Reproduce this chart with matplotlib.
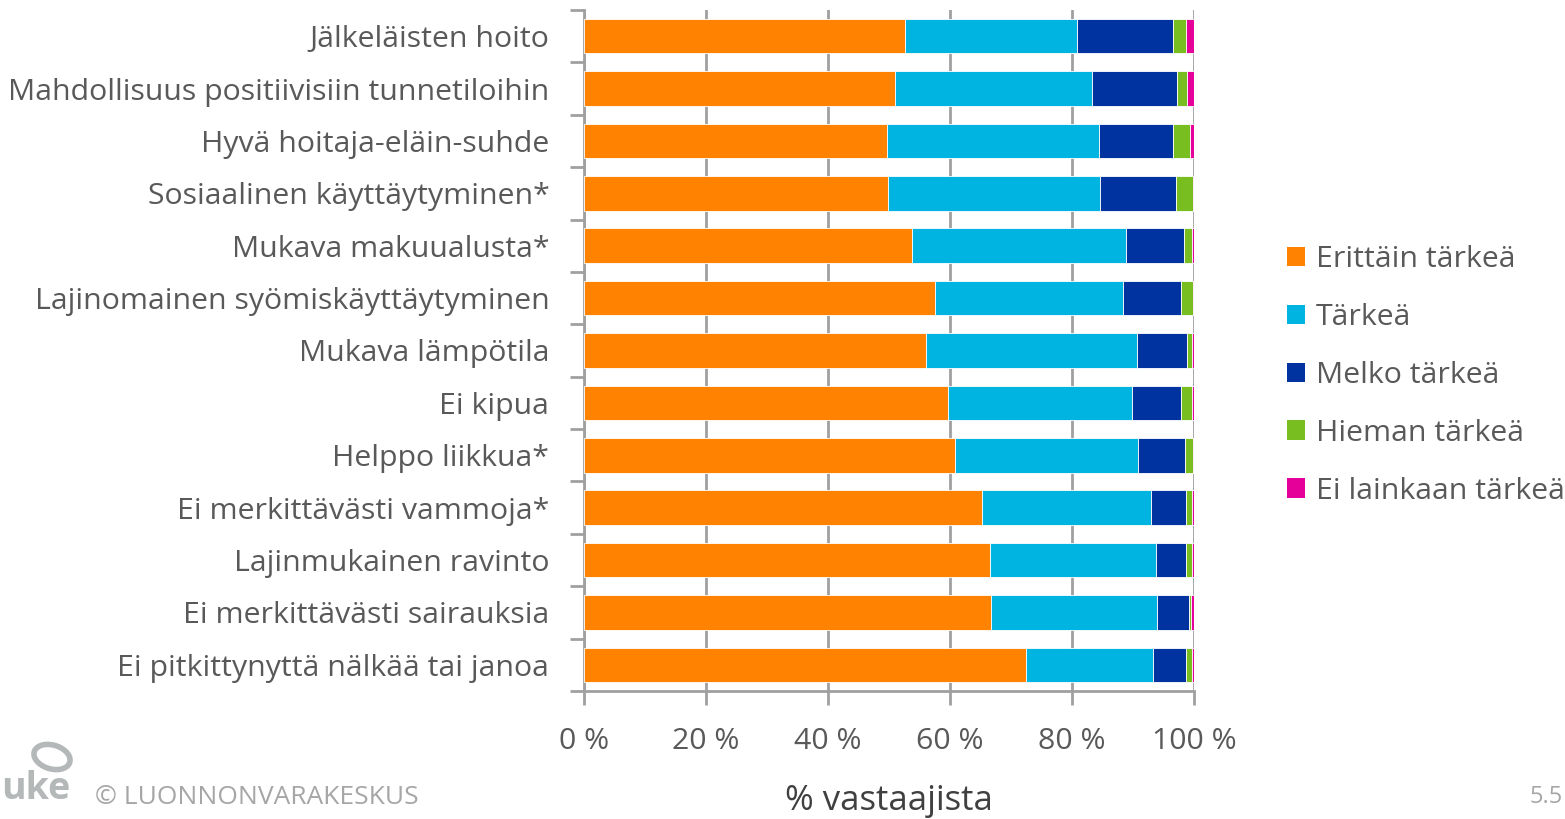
import matplotlib
matplotlib.use("Agg")
import matplotlib.pyplot as plt
from matplotlib.patches import Patch, Ellipse
import numpy as np

plt.rcParams['font.family'] = ['Open Sans', 'DejaVu Sans']

categories = [
    "Jälkeläisten hoito",
    "Mahdollisuus positiivisiin tunnetiloihin",
    "Hyvä hoitaja-eläin-suhde",
    "Sosiaalinen käyttäytyminen*",
    "Mukava makuualusta*",
    "Lajinomainen syömiskäyttäytyminen",
    "Mukava lämpötila",
    "Ei kipua",
    "Helppo liikkua*",
    "Ei merkittävästi vammoja*",
    "Lajinmukainen ravinto",
    "Ei merkittävästi sairauksia",
    "Ei pitkittynyttä nälkää tai janoa",
]
series_names = ["Erittäin tärkeä", "Tärkeä", "Melko tärkeä", "Hieman tärkeä", "Ei lainkaan tärkeä"]
erittain = [52.7, 51.0, 49.7, 49.9, 53.7, 57.5, 56.0, 59.6, 60.9, 65.3, 66.6, 66.8, 72.4]
tarkea   = [28.1, 32.2, 34.7, 34.7, 35.1, 30.9, 34.7, 30.2, 30.0, 27.7, 27.1, 27.2, 20.8]
melko    = [15.8, 14.0, 12.2, 12.4, 9.5, 9.5, 8.2, 8.1, 7.6, 5.7, 5.0, 5.1, 5.5]
hieman   = [2.1, 1.7, 2.7, 2.8, 1.3, 2.0, 0.8, 1.8, 1.4, 1.0, 1.0, 0.4, 1.0]
ei       = [1.3, 1.1, 0.7, 0.2, 0.4, 0.1, 0.3, 0.3, 0.1, 0.3, 0.3, 0.5, 0.3]
x_ticks = [0, 20, 40, 60, 80, 100]
x_ticklabels = ["0 %", "20 %", "40 %", "60 %", "80 %", "100 %"]

colors = ["#FF8200", "#00B4E1", "#0033A0", "#78BE20", "#E6009A"]
grey = "#A0A0A0"
text_col = "#595959"

fig = plt.figure(figsize=(15.65, 8.19), dpi=100)
ax = fig.add_axes([584/1565, 1-691/819, 610/1565, 681/819])

y = np.arange(len(categories))
left = np.zeros(len(categories))
for vals, col, name in zip([erittain, tarkea, melko, hieman, ei], colors, series_names):
    ax.barh(y, vals, left=left, height=0.66, color=col, edgecolor="white",
            linewidth=0.6, label=name, zorder=3)
    left += np.array(vals)

ax.set_ylim(len(categories) - 0.5, -0.5)
ax.set_xlim(0, 100)

ax.set_yticks(y)
ax.set_yticklabels(categories, fontsize=21.8, color=text_col)
ax.set_yticks(np.arange(-0.5, len(categories), 1), minor=True)
ax.tick_params(axis='y', which='major', length=0, pad=25)
ax.tick_params(axis='y', which='minor', length=10, width=2, color=grey, direction='out')

ax.set_xticks(x_ticks)
ax.set_xticklabels(x_ticklabels, fontsize=21.8, color=text_col)
ax.tick_params(axis='x', which='major', length=10, width=2, color=grey, direction='out', pad=16)

ax.grid(axis='x', color=grey, linewidth=2, zorder=0)
for s in ['top', 'right']:
    ax.spines[s].set_visible(False)
for s in ['left', 'bottom']:
    ax.spines[s].set_color(grey)
    ax.spines[s].set_linewidth(2)

ax.set_xlabel("% vastaajista", fontsize=25, color="#404040", labelpad=20)

handles = [Patch(facecolor=c, edgecolor='none') for c in colors]
fig.legend(handles, series_names, loc='upper left', bbox_to_anchor=(1287/1565, 1-245/819),
           frameon=False, fontsize=21.8, labelcolor=text_col, handlelength=0.6,
           handleheight=0.6, handletextpad=0.35, labelspacing=0.955, borderaxespad=0,
           borderpad=0)

# footer
fig.text(95/1565, 1-797/819, "© LUONNONVARAKESKUS", fontsize=19, color="#A6A6A6",
         va='center', ha='left')
fig.text(1563/1565, 1-797/819, "5.5", fontsize=17, color="#A6A6A6", va='center', ha='right')
fig.text(1/1565, 1-789/819, "uke", fontsize=27, fontweight='bold', color="#B4B8B8",
         va='center', ha='left')
leaf = Ellipse((52/1565, 1-757/819), 34/1565, 26/819, angle=20, fill=False,
               edgecolor="#B4B8B8", linewidth=4, transform=fig.transFigure)
fig.patches.append(leaf)

fig.savefig("out.png", dpi=100)
